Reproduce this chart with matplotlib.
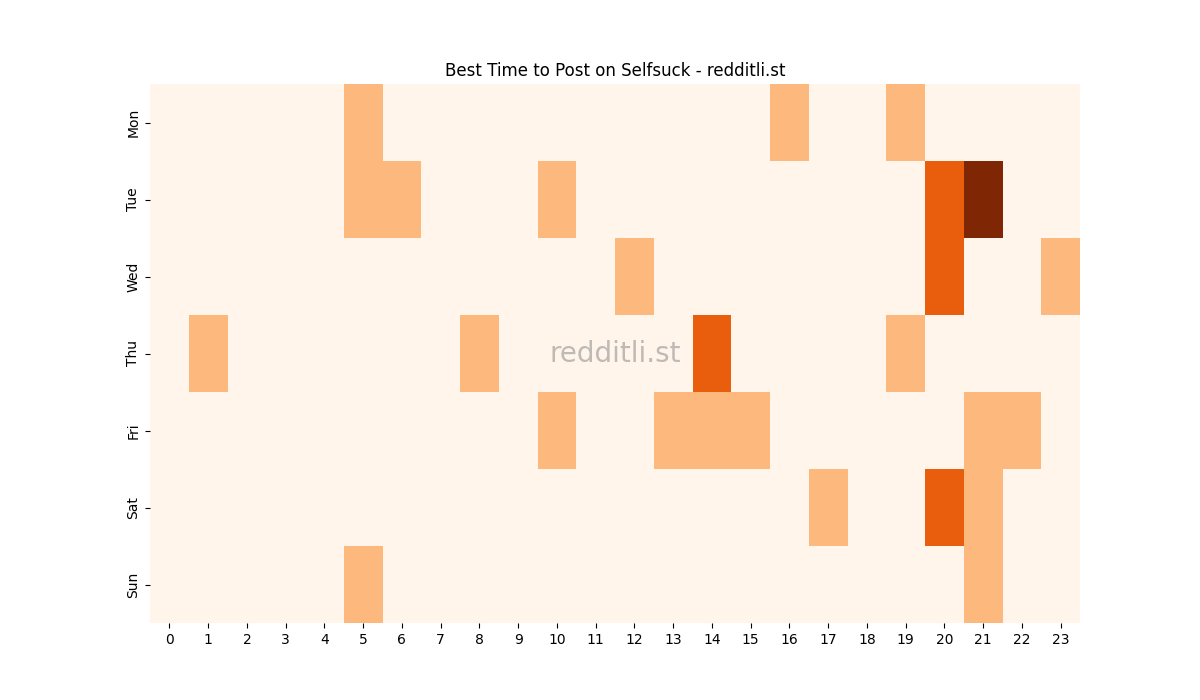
import matplotlib
matplotlib.use('Agg')
import matplotlib.pyplot as plt
import seaborn as sns
import numpy as np

days = ['Mon', 'Tue', 'Wed', 'Thu', 'Fri', 'Sat', 'Sun']
hours = list(range(24))

# posts per (day, hour) slot
mon = [0,0,0,0,0,1,0,0,0,0,0,0,0,0,0,0,1,0,0,1,0,0,0,0]
tue = [0,0,0,0,0,1,1,0,0,0,1,0,0,0,0,0,0,0,0,0,2,3,0,0]
wed = [0,0,0,0,0,0,0,0,0,0,0,0,1,0,0,0,0,0,0,0,2,0,0,1]
thu = [0,1,0,0,0,0,0,0,1,0,0,0,0,0,2,0,0,0,0,1,0,0,0,0]
fri = [0,0,0,0,0,0,0,0,0,0,1,0,0,1,1,1,0,0,0,0,0,1,1,0]
sat = [0,0,0,0,0,0,0,0,0,0,0,0,0,0,0,0,0,1,0,0,2,1,0,0]
sun = [0,0,0,0,0,1,0,0,0,0,0,0,0,0,0,0,0,0,0,0,0,1,0,0]

grid = np.array([mon, tue, wed, thu, fri, sat, sun])

fig, ax = plt.subplots(figsize=(12, 7), dpi=100)
sns.heatmap(grid, cmap='Oranges', cbar=False, xticklabels=hours,
            yticklabels=days, ax=ax)
ax.set_title('Best Time to Post on Selfsuck - redditli.st')
ax.text(0.5, 0.5, 'redditli.st', transform=ax.transAxes, fontsize=20,
        color='gray', alpha=0.5, ha='center', va='center')
plt.savefig('out.png')
